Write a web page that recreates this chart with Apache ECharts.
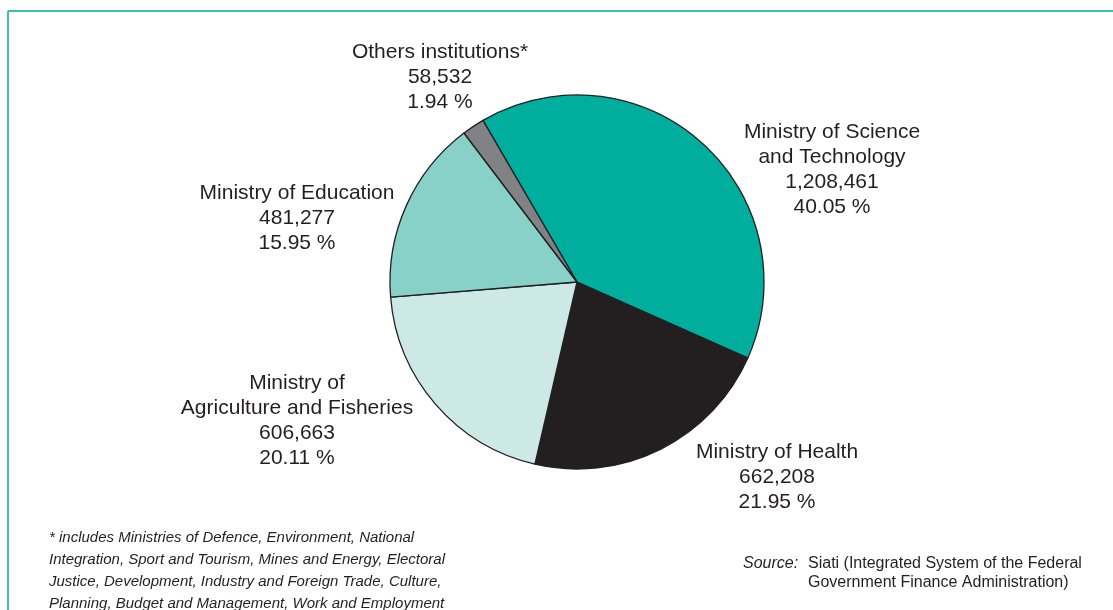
<!DOCTYPE html>
<html>
<head>
<meta charset="utf-8">
<script src="https://cdn.jsdelivr.net/npm/echarts@6/dist/echarts.min.js"></script>
<style>
  html, body { margin: 0; padding: 0; background: #ffffff; }
  #chart { width: 1113px; height: 610px; }
</style>
</head>
<body>
<div id="chart"></div>
<script>
// Federal R&D spending by institution
const names = [
  'Ministry of Science\nand Technology',
  'Ministry of Health',
  'Ministry of\nAgriculture and Fisheries',
  'Ministry of Education',
  'Others institutions*'
];
const values = [1208461, 662208, 606663, 481277, 58532];
const colors = ['#00ae9e', '#231f20', '#cde9e6', '#88d1c8', '#808285'];

const footnote = [
  '* includes Ministries of Defence, Environment, National',
  'Integration, Sport and Tourism, Mines and Energy, Electoral',
  'Justice, Development, Industry and Foreign Trade, Culture,',
  'Planning, Budget and Management, Work and Employment'
];
const sourceLines = [
  'Siati (Integrated System of the Federal',
  'Government Finance Administration)'
];

// label anchor points (block centre) for each slice
const labelPos = [
  [832, 170],
  [777, 477],
  [297, 421],
  [297, 218],
  [440, 77]
];

const FONT = '"Liberation Sans", Arial, sans-serif';
const TEXT = '#231f20';

const chart = echarts.init(document.getElementById('chart'), null, { renderer: 'canvas' });

const fmt = n => n.toLocaleString('en-US');

chart.setOption({
  animation: false,
  backgroundColor: '#ffffff',
  series: [{
    type: 'pie',
    center: [577, 282],
    radius: 187,
    startAngle: 120.2,
    clockwise: true,
    avoidLabelOverlap: false,
    data: names.map((n, i) => ({
      name: n,
      value: values[i],
      itemStyle: { color: colors[i] }
    })),
    itemStyle: { borderColor: '#231f20', borderWidth: 1.3 },
    label: {
      show: true,
      position: 'outside',
      color: TEXT,
      fontFamily: FONT,
      fontSize: 21,
      lineHeight: 25,
      align: 'center',
      formatter: p => p.name + '\n' + fmt(p.value) + '\n' + p.percent.toFixed(2) + ' %'
    },
    percentPrecision: 2,
    labelLine: { show: false },
    labelLayout: p => ({
      x: labelPos[p.dataIndex][0],
      y: labelPos[p.dataIndex][1],
      align: 'center',
      verticalAlign: 'middle'
    }),
    emphasis: { disabled: true }
  }],
  graphic: [
    // frame: top and left rules
    { type: 'line', shape: { x1: 8, y1: 11, x2: 1113, y2: 11 }, style: { stroke: '#3cbfae', lineWidth: 2 } },
    { type: 'line', shape: { x1: 8, y1: 11, x2: 8, y2: 610 }, style: { stroke: '#3cbfae', lineWidth: 2 } },
    ...footnote.map((t, i) => ({
      type: 'text', left: 49, top: 530 + i * 22,
      style: { text: t, fill: TEXT, font: 'italic 15px ' + FONT }
    })),
    { type: 'text', left: 743, top: 556,
      style: { text: 'Source:', fill: TEXT, font: 'italic 16px ' + FONT } },
    ...sourceLines.map((t, i) => ({
      type: 'text', left: 808, top: 556 + i * 19,
      style: { text: t, fill: TEXT, font: '16px ' + FONT }
    }))
  ]
});
</script>
</body>
</html>
